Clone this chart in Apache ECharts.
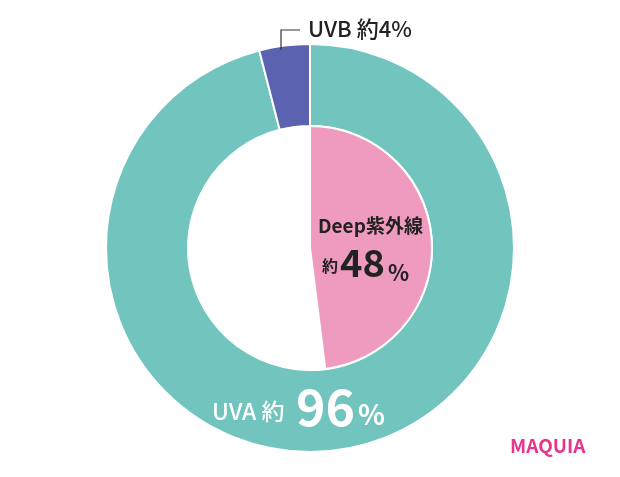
<!DOCTYPE html>
<html><head><meta charset="utf-8">
<script src="https://cdn.jsdelivr.net/npm/echarts@6/dist/echarts.min.js"></script>
<style>html,body{margin:0;padding:0;background:#fff}#c{width:620px;height:477px}</style>
</head><body><div id="c"></div>
<script>
const outerNames = ['UVA', 'UVB'];
const outerValues = [96, 4];
const innerNames = ['Deep紫外線', 'rest'];
const innerValues = [48, 52];
const F = '"Noto Sans CJK JP","Roboto",sans-serif';
const chart = echarts.init(document.getElementById('c'));
const T = (l, t, text, font, fill) => ({type: 'text', left: l, top: t, z: 100, style: {text, font: font + ' ' + F, fill}});
chart.setOption({
  animation: false,
  series: [
    {type: 'pie', z: 1, center: [310, 248], radius: [122, 204], startAngle: 90, clockwise: true,
     label: {show: false}, labelLine: {show: false}, silent: true,
     itemStyle: {borderColor: '#fff', borderWidth: 2},
     data: outerNames.map((n, i) => ({name: n, value: outerValues[i],
       itemStyle: {color: ['#72C5BF', '#5B63B0'][i]}}))},
    {type: 'pie', z: 1, center: [310, 248], radius: [0, 122], startAngle: 90, clockwise: true,
     label: {show: false}, labelLine: {show: false}, silent: true,
     data: innerNames.map((n, i) => ({name: n, value: innerValues[i],
       itemStyle: i === 0 ? {color: '#EF9BC0', borderColor: '#fff', borderWidth: 2} : {color: 'rgba(0,0,0,0)'}}))}
  ],
  graphic: {elements: [
    {type: 'polyline', z: 100, shape: {points: [[281, 50], [281, 30], [300, 30]]}, style: {stroke: '#333', lineWidth: 1.2, fill: null}},
    T(308, 18, 'UVB 約4%', '500 22px', '#222'),
    T(318, 216, 'Deep紫外線', 'bold 19px', '#222'),
    T(322, 258, '約', 'bold 16px', '#222'),
    T(340, 244, '48', 'bold 38px', '#222'),
    T(388, 262, '%', 'bold 22px', '#222'),
    T(212, 400, 'UVA 約', '500 23px', '#fff'),
    T(296, 382, '96', 'bold 50px', '#fff'),
    T(358, 400, '%', 'bold 28px', '#fff'),
    T(510, 436, 'MAQUIA', 'bold 19px', '#E8358A')
  ]}
});
</script></body></html>
